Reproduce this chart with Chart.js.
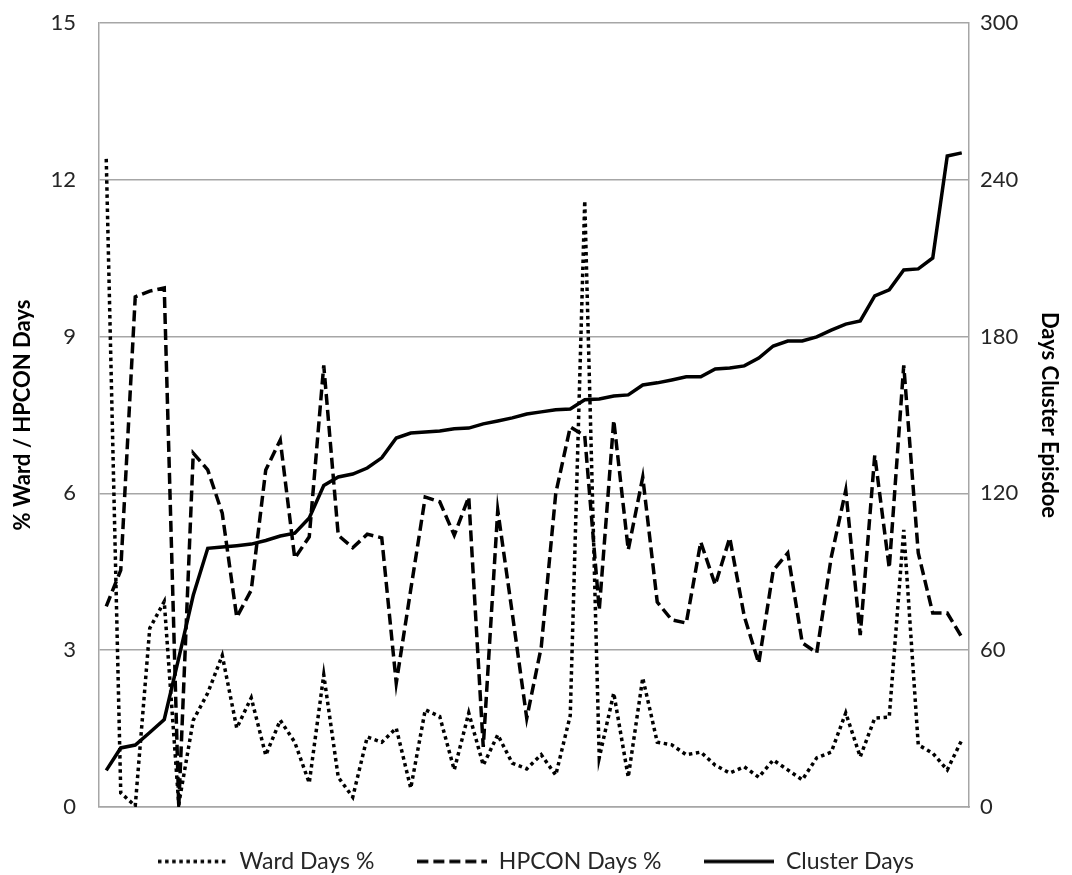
<!DOCTYPE html>
<html>
<head>
<meta charset="utf-8">
<script src="https://cdn.jsdelivr.net/npm/chart.js@4.4.0/dist/chart.umd.min.js"></script>
<style>
  html, body { margin: 0; padding: 0; background: #fff; }
  #wrap { position: relative; width: 1072px; height: 875px; }
</style>
</head>
<body>
<div id="wrap"><canvas id="chart"></canvas></div>
<script>
// one category per cluster episode, sorted by cluster length
const episodes = [1, 2, 3, 4, 5, 6, 7, 8, 9, 10, 11, 12, 13, 14, 15, 16, 17, 18, 19, 20,
    21, 22, 23, 24, 25, 26, 27, 28, 29, 30, 31, 32, 33, 34, 35, 36, 37, 38, 39, 40,
    41, 42, 43, 44, 45, 46, 47, 48, 49, 50, 51, 52, 53, 54, 55, 56, 57, 58, 59, 60];

const wardDaysPct = [12.4, 0.27, 0.02, 3.42, 3.93, 0.05, 1.66, 2.18, 2.9, 1.51,
    2.09, 0.99, 1.66, 1.24, 0.46, 2.53, 0.57, 0.19, 1.34, 1.24,
    1.51, 0.36, 1.86, 1.73, 0.71, 1.8, 0.8, 1.38, 0.84, 0.73,
    1.0, 0.61, 1.75, 11.6, 0.94, 2.18, 0.57, 2.47, 1.24, 1.19,
    1.0, 1.05, 0.8, 0.65, 0.77, 0.57, 0.9, 0.71, 0.52, 0.94,
    1.05, 1.8, 0.96, 1.7, 1.72, 5.3, 1.19, 1.03, 0.71, 1.28];

const hpconDaysPct = [3.84, 4.53, 9.76, 9.87, 9.93, 0, 6.77, 6.45, 5.62, 3.63,
    4.15, 6.45, 7.02, 4.76, 5.17, 8.45, 5.2, 4.96, 5.22, 5.15,
    2.37, 4.16, 5.93, 5.84, 5.2, 5.93, 1.15, 5.68, 3.71, 1.7,
    3.06, 6.0, 7.27, 7.1, 3.77, 7.4, 4.92, 6.31, 3.92, 3.58,
    3.52, 5.07, 4.25, 5.15, 3.65, 2.75, 4.53, 4.86, 3.14, 2.95,
    4.78, 6.06, 3.29, 6.73, 4.57, 8.45, 4.86, 3.71, 3.71, 3.25];

const clusterDays = [14, 22.6, 23.7, 28.5, 33.5, 57, 81, 99, 99.5, 100,
    100.6, 102, 103.7, 104.8, 110.6, 123, 126.3, 127.4, 129.7, 133.6,
    141.2, 143.1, 143.5, 143.9, 144.7, 145, 146.6, 147.7, 148.9, 150.4,
    151.2, 152, 152.3, 155.8, 156.1, 157.3, 157.7, 161.5, 162.3, 163.4,
    164.6, 164.6, 167.6, 168, 168.8, 171.8, 176.4, 178.3, 178.3, 179.9,
    182.5, 184.8, 186, 195.6, 197.9, 205.5, 205.9, 210.1, 249.1, 250.3];

// axis ranges
const leftAxis = { min: 0, max: 15, step: 3 };
const rightAxis = { min: 0, max: 300, step: 60 };

const FONT = 'Lato, "Open Sans", sans-serif';
const GRID = '#a6a6a6';
const INK = '#262626';
const NONE = 'rgba(0,0,0,0)';

const DOTTED = [3.5, 3.6];
const DASHED = [11, 5];

// legend swatch: a short line drawn with the series' dash pattern
function lineSample(dash) {
    const c = document.createElement('canvas');
    c.width = 70;
    c.height = 8;
    const g = c.getContext('2d');
    g.strokeStyle = '#000';
    g.lineWidth = 3.5;
    g.setLineDash(dash);
    g.beginPath();
    g.moveTo(0, 4);
    g.lineTo(70, 4);
    g.stroke();
    return c;
}

const ctx = document.getElementById('chart').getContext('2d');
new Chart(ctx, {
    type: 'line',
    data: {
        labels: episodes,
        datasets: [{
            label: 'Ward Days %',
            data: wardDaysPct,
            yAxisID: 'y',
            borderColor: '#000',
            borderWidth: 3.5,
            borderDash: DOTTED,
            pointRadius: 0,
            pointStyle: lineSample(DOTTED),
            tension: 0
        }, {
            label: 'HPCON Days %',
            data: hpconDaysPct,
            yAxisID: 'y',
            borderColor: '#000',
            borderWidth: 3.5,
            borderDash: DASHED,
            pointRadius: 0,
            pointStyle: lineSample(DASHED),
            tension: 0
        }, {
            label: 'Cluster Days',
            data: clusterDays,
            yAxisID: 'y2',
            borderColor: '#000',
            borderWidth: 3.5,
            pointRadius: 0,
            pointStyle: lineSample([]),
            tension: 0
        }]
    },
    options: {
        responsive: true,
        maintainAspectRatio: false,
        animation: false,
        // legend sits low, close to the bottom edge
        layout: { padding: { top: 23, left: 0, right: 0, bottom: -8 } },
        plugins: {
            tooltip: { enabled: false },
            legend: {
                position: 'bottom',
                labels: {
                    usePointStyle: true,
                    pointStyleWidth: 70,
                    boxHeight: 22,
                    padding: 43,
                    color: INK,
                    font: { family: FONT, size: 23 }
                }
            }
        },
        scales: {
            x: {
                offset: true,
                ticks: { display: false },
                grid: { display: false, drawTicks: false },
                border: { display: true, color: GRID, width: 1.5 }
            },
            y: {
                position: 'left',
                min: leftAxis.min,
                max: leftAxis.max,
                ticks: {
                    stepSize: leftAxis.step,
                    padding: 9,
                    color: INK,
                    font: { family: FONT, size: 22 }
                },
                grid: { color: GRID, lineWidth: 1.5, drawTicks: true, tickLength: 14, tickColor: NONE },
                border: { color: GRID, width: 1.5 },
                title: {
                    display: true,
                    text: '% Ward / HPCON Days',
                    color: '#000',
                    padding: { top: 10, bottom: 0 },
                    font: { family: FONT, size: 22, weight: 'bold' }
                },
                afterFit: function(scale) { scale.width = 99; }
            },
            y2: {
                position: 'right',
                min: rightAxis.min,
                max: rightAxis.max,
                ticks: {
                    stepSize: rightAxis.step,
                    padding: 9,
                    color: INK,
                    font: { family: FONT, size: 22 }
                },
                grid: { display: false, drawTicks: true, tickLength: 2, tickColor: NONE },
                border: { color: GRID, width: 1.5 },
                title: {
                    display: true,
                    text: 'Days Cluster Episdoe',
                    color: '#000',
                    padding: { top: 10, bottom: 0 },
                    font: { family: FONT, size: 22, weight: 'bold' }
                },
                afterFit: function(scale) { scale.width = 103; }
            }
        }
    }
});
</script>
</body>
</html>
